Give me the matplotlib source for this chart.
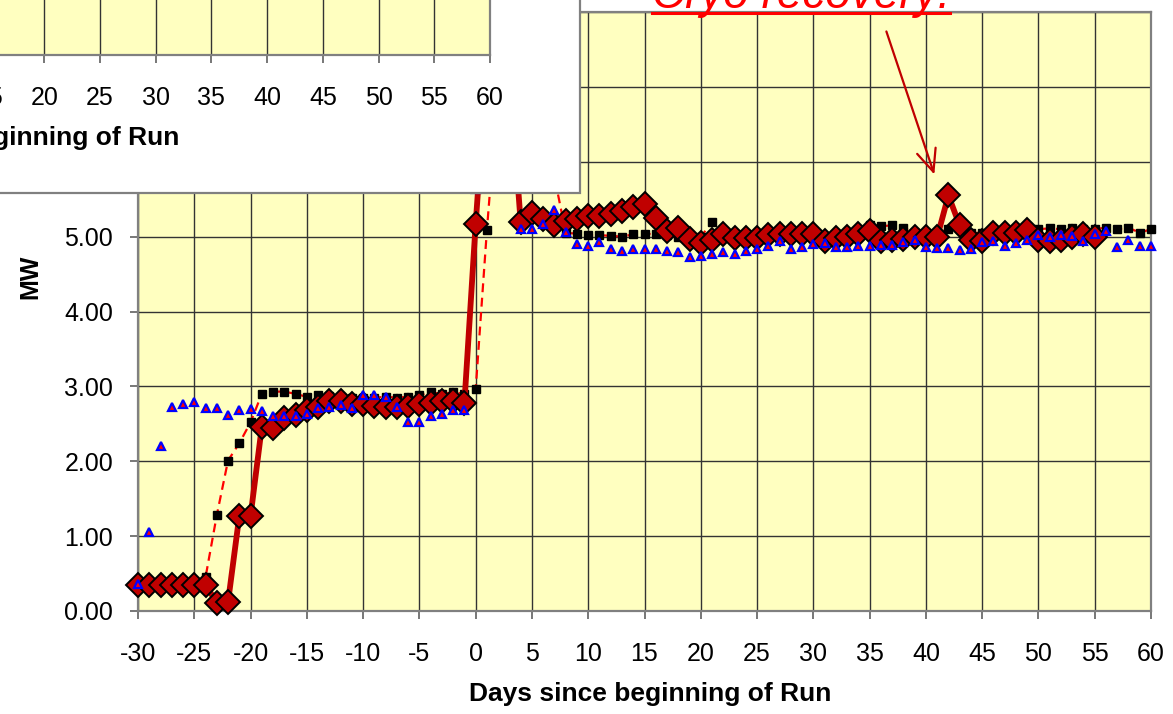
import matplotlib
matplotlib.use('Agg')
import matplotlib.pyplot as plt
from matplotlib.patches import Rectangle
from matplotlib.lines import Line2D
from matplotlib.ticker import FormatStrFormatter

plt.rcParams['font.family'] = ['Liberation Sans', 'DejaVu Sans']
plt.rcParams['axes.unicode_minus'] = False

# series 1: thick red line with diamonds
days_dm = list(range(-30, 56))
mw_dm = [0.35, 0.35, 0.35, 0.35, 0.35, 0.35, 0.35, 0.11, 0.12, 1.27,
         1.27, 2.46, 2.45, 2.58, 2.62, 2.68, 2.73, 2.80, 2.80, 2.76,
         2.76, 2.74, 2.73, 2.73, 2.74, 2.76, 2.78, 2.80, 2.80, 2.78,
         5.17, 7.30, 7.50, 7.20, 5.19, 5.31, 5.24, 5.16, 5.21, 5.23,
         5.27, 5.28, 5.30, 5.34, 5.39, 5.43, 5.25, 5.07, 5.12, 4.97,
         4.92, 4.95, 5.04, 4.98, 4.98, 4.98, 5.02, 5.04, 5.04, 5.03,
         5.04, 4.94, 4.98, 5.00, 5.03, 5.07, 4.94, 4.96, 4.97, 5.00,
         5.00, 4.99, 5.55, 5.15, 4.95, 4.94, 5.05, 5.05, 5.05, 5.09,
         4.96, 4.94, 4.96, 5.00, 5.03, 5.00]

# series 2: black squares on red dashed line
days_sq = list(range(-30, 61))
mw_sq = [0.35, 0.35, 0.35, 0.35, 0.35, 0.35, 0.45, 1.28, 2.01, 2.24,
         2.52, 2.90, 2.93, 2.93, 2.90, 2.86, 2.88, 2.87, 2.86, 2.85,
         2.84, 2.85, 2.86, 2.85, 2.86, 2.88, 2.92, 2.90, 2.92, 2.90,
         2.96, 5.09, 7.00, 7.20, 7.10, 6.90, 6.60, 5.80, 5.05, 5.04,
         5.02, 5.02, 5.01, 5.00, 5.03, 5.04, 5.03, 5.02, 5.00, 5.00,
         5.00, 5.19, 5.02, 5.00, 5.00, 5.00, 5.02, 5.03, 5.03, 5.02,
         5.02, 5.00, 5.00, 5.02, 5.05, 5.16, 5.14, 5.15, 5.12, 5.05,
         5.05, 5.05, 5.10, 5.10, 5.05, 5.05, 5.06, 5.07, 5.08, 5.08,
         5.10, 5.11, 5.10, 5.12, 5.10, 5.10, 5.12, 5.10, 5.12, 5.05,
         5.10]

# series 3: blue triangles, no line
days_tr = list(range(-30, 61))
mw_tr = [0.36, 1.06, 2.21, 2.72, 2.77, 2.79, 2.71, 2.71, 2.62, 2.68,
         2.70, 2.67, 2.60, 2.60, 2.60, 2.63, 2.71, 2.73, 2.75, 2.71,
         2.88, 2.88, 2.86, 2.72, 2.53, 2.53, 2.60, 2.63, 2.68, 2.68,
         5.64, 6.50, 6.80, 6.00, 5.10, 5.10, 5.17, 5.36, 5.06, 4.90,
         4.88, 4.93, 4.84, 4.81, 4.83, 4.83, 4.83, 4.81, 4.79, 4.73,
         4.74, 4.77, 4.79, 4.77, 4.81, 4.84, 4.88, 4.94, 4.84, 4.86,
         4.90, 4.92, 4.86, 4.86, 4.87, 4.87, 4.89, 4.89, 4.93, 4.95,
         4.86, 4.85, 4.85, 4.82, 4.83, 4.93, 4.94, 4.88, 4.92, 4.96,
         5.02, 4.99, 5.02, 5.01, 4.94, 5.03, 5.07, 4.86, 4.96, 4.88,
         4.88]

x_ticks = list(range(-30, 61, 5))
y_ticks = list(range(0, 9))

W, H = 1173, 714
fig = plt.figure(figsize=(W / 100, H / 100), dpi=100)


def fx(px):
    return px / W


def fy(py):
    return 1 - py / H


def style(a):
    a.set_facecolor('#FFFFC0')
    a.set_xlim(-30, 60)
    a.set_ylim(0, 8)
    a.set_xticks(x_ticks)
    a.set_yticks(y_ticks)
    a.yaxis.set_major_formatter(FormatStrFormatter('%.2f'))
    a.grid(True, color='#333333', lw=1.0)
    a.set_axisbelow(True)
    for s in a.spines.values():
        s.set_color('#808080')
        s.set_linewidth(1.6)
    a.tick_params(axis='x', direction='out', length=6, width=1.2,
                  color='#606060', labelsize=18, pad=16)
    a.tick_params(axis='y', direction='out', length=6, width=1.2,
                  color='#606060', labelsize=18, pad=12)
    a.set_xlabel('Days since beginning of Run', fontsize=19,
                 fontweight='bold', labelpad=12)


ax = fig.add_axes([fx(138), fy(611), fx(1151) - fx(138), fy(12) - fy(611)])
style(ax)
ax.xaxis.label.set_x(0.506)
ax.set_ylabel('MW', fontsize=18, fontweight='bold')
ax.yaxis.set_label_coords(-0.0947, 0.5576)

ax.plot(days_sq, mw_sq, color='red', ls=(0, (4, 2.5)), lw=1.6, marker='s',
        ms=5.5, mfc='black', mec='black', zorder=3, clip_on=False)
ax.plot(days_dm, mw_dm, color='#C00000', lw=4.2, marker='D', ms=12.5,
        mfc='#C00000', mec='black', mew=1.4, zorder=4, clip_on=False)
ax.plot(days_tr, mw_tr, ls='none', marker='^', ms=5.5, mfc='red',
        mec='blue', mew=1.6, zorder=5, clip_on=False)

ax.annotate('', xy=(40.75, 5.83), xytext=(36.49, 7.74),
            arrowprops=dict(arrowstyle='->,head_length=0.8,head_width=0.35',
                            color='#C00000', lw=1.6, mutation_scale=20,
                            shrinkA=0, shrinkB=0))

txt = fig.text(fx(652), fy(8), 'Cryo recovery!', color='red', style='italic',
               fontsize=33, ha='left', va='baseline')

# white box from another chart laid over the top-left corner
fig.add_artist(Rectangle((fx(-10), fy(193)), fx(580) - fx(-10), 1.1 - fy(193),
                         transform=fig.transFigure, facecolor='white',
                         edgecolor='#808080', lw=1.6, zorder=1))

ins = fig.add_axes([fx(-513), fy(55), fx(490) - fx(-513), fy(-544) - fy(55)],
                   zorder=2)
style(ins)
ins.xaxis.label.set_x(0.51)

fig.canvas.draw()
bb = txt.get_window_extent().transformed(fig.transFigure.inverted())
fig.add_artist(Line2D([bb.x0, bb.x1], [fy(12.5), fy(12.5)],
                      transform=fig.transFigure, color='red', lw=2.2))

fig.savefig('out.png', dpi=100)
